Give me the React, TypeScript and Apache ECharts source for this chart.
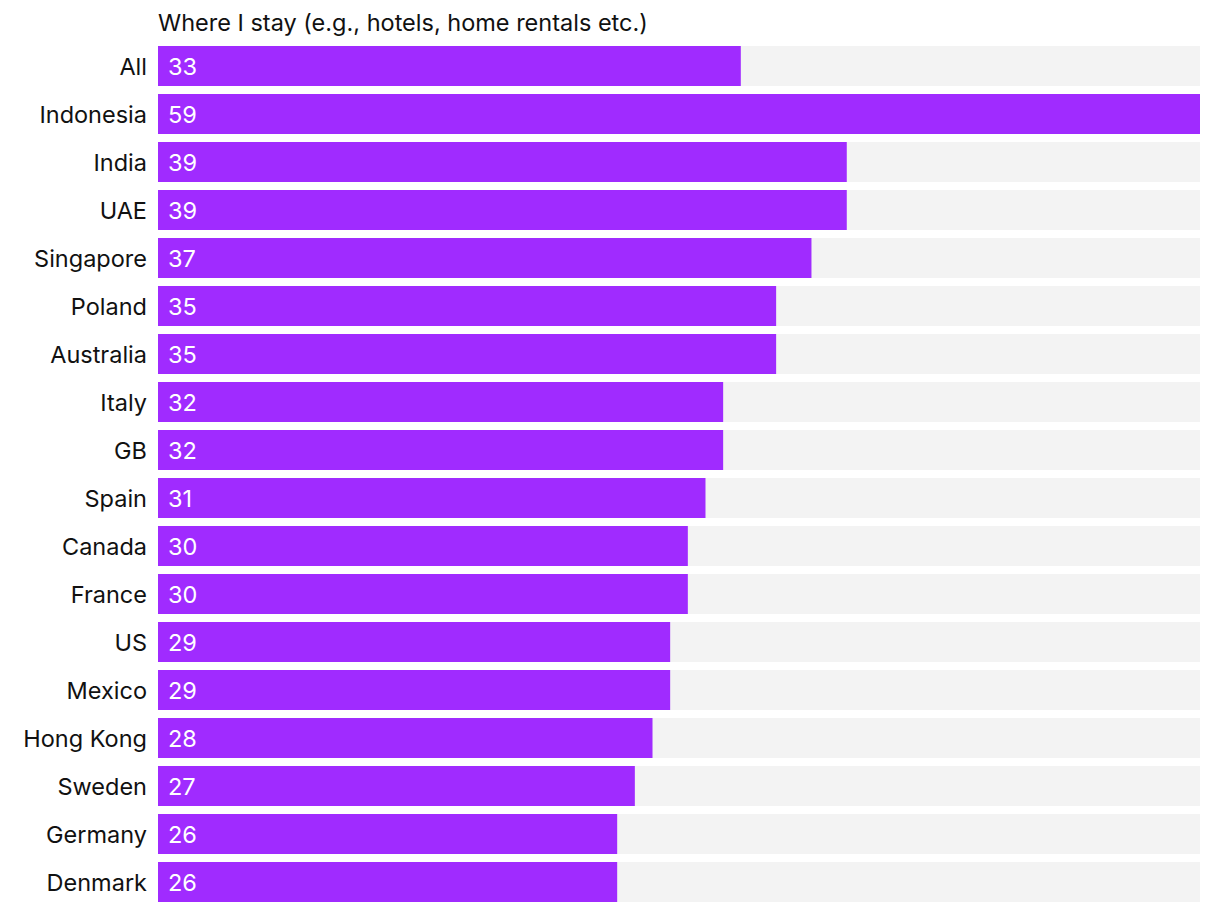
import React, { useEffect, useRef } from "react";
import * as echarts from "echarts";

const categories = [
  "All", "Indonesia", "India", "UAE", "Singapore", "Poland", "Australia", "Italy", "GB",
  "Spain", "Canada", "France", "US", "Mexico", "Hong Kong", "Sweden", "Germany", "Denmark",
];
const values = [33, 59, 39, 39, 37, 35, 35, 32, 32, 31, 30, 30, 29, 29, 28, 27, 26, 26];
const title = "Where I stay (e.g., hotels, home rentals etc.)";

const FONT = "Inter, 'Noto Sans', sans-serif";

export default function App() {
  const ref = useRef<HTMLDivElement>(null);
  useEffect(() => {
    if (!ref.current) return;
    const chart = echarts.init(ref.current, undefined, { renderer: "svg" });
    chart.setOption({
      animation: false,
      backgroundColor: "#ffffff",
      title: {
        text: title,
        left: 153,
        top: 5,
        textStyle: { fontFamily: FONT, fontSize: 23.5, fontWeight: "normal", color: "#111111" },
      },
      grid: { left: 158, right: 20, top: 42, height: 864 },
      xAxis: {
        type: "value",
        min: 0,
        max: 59,
        show: false,
      },
      yAxis: {
        type: "category",
        data: categories,
        inverse: true,
        axisLine: { show: false },
        axisTick: { show: false },
        axisLabel: { fontFamily: FONT, fontSize: 23.5, color: "#111111", margin: 11 },
      },
      series: [
        {
          type: "bar",
          data: values,
          barWidth: 40,
          itemStyle: { color: "#a02bff" },
          showBackground: true,
          backgroundStyle: { color: "#f3f3f3" },
          label: {
            show: true,
            position: "insideLeft",
            distance: 10,
            color: "#ffffff",
            fontFamily: FONT,
            fontSize: 23.5,
          },
        },
      ],
    });
    return () => chart.dispose();
  }, []);
  return (
    <div
      ref={ref}
      style={{ position: "fixed", left: 0, top: 0, width: 1220, height: 912 }}
    />
  );
}
